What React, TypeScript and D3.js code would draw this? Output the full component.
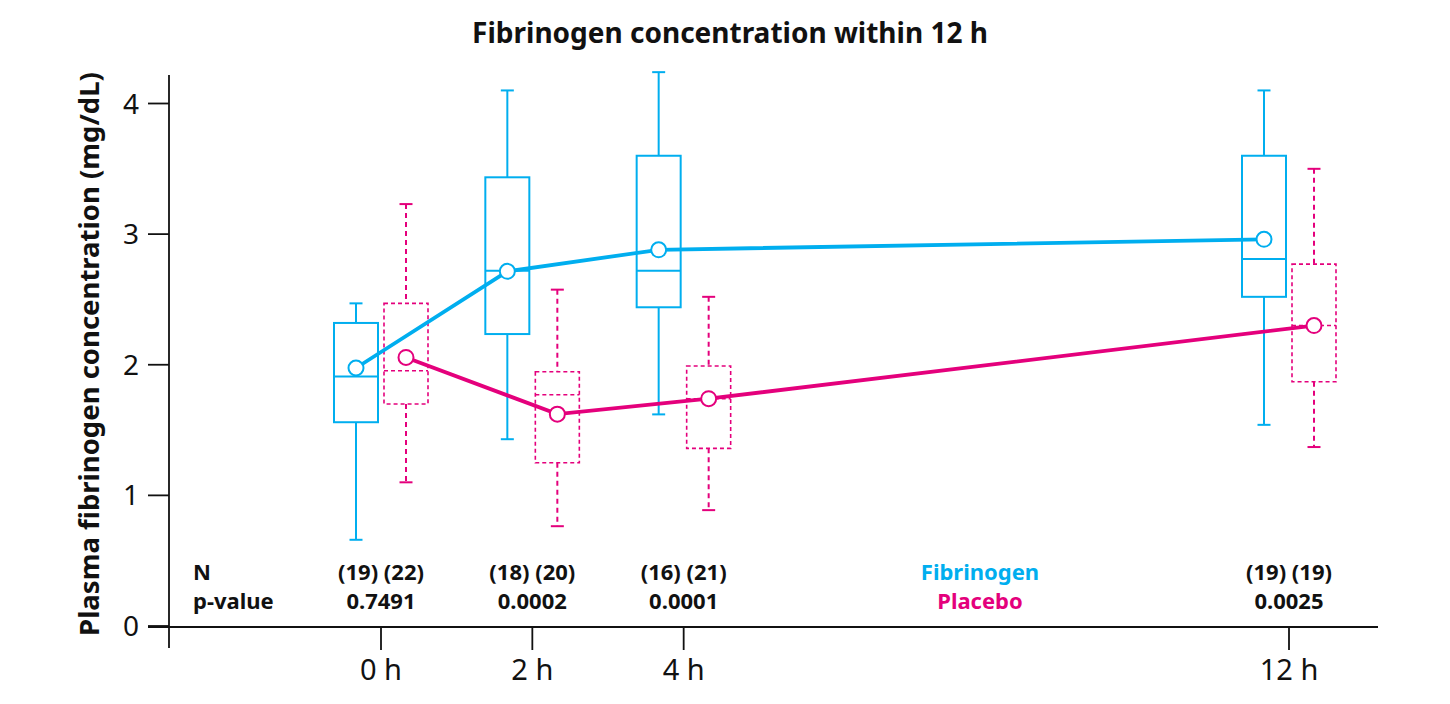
import * as d3 from "d3";

// time points (hours) and labels
const hours = [0, 2, 4, 12];
const hourLabels = ["0 h", "2 h", "4 h", "12 h"];

// Fibrinogen group: box plot stats per time point
const fibLow = [0.66, 1.43, 1.62, 1.54];
const fibQ1 = [1.56, 2.235, 2.44, 2.52];
const fibMedian = [1.91, 2.72, 2.72, 2.81];
const fibQ3 = [2.32, 3.435, 3.6, 3.6];
const fibHigh = [2.47, 4.1, 4.24, 4.1];
const fibMean = [1.975, 2.715, 2.88, 2.96];

// Placebo group
const plaLow = [1.1, 0.764, 0.887, 1.37];
const plaQ1 = [1.7, 1.25, 1.36, 1.87];
const plaMedian = [1.954, 1.77, 1.74, 2.3];
const plaQ3 = [2.47, 1.946, 1.99, 2.77];
const plaHigh = [3.23, 2.575, 2.52, 3.5];
const plaMean = [2.056, 1.622, 1.74, 2.3];

// table under the boxes
const nFib = [19, 18, 16, 19];
const nPla = [22, 20, 21, 19];
const pValues = ["0.7491", "0.0002", "0.0001", "0.0025"];

const yTicks = [0, 1, 2, 3, 4];

const CYAN = "#00aeef";
const MAGENTA = "#e4007c";
const FONT = "'Noto Sans', 'Open Sans', sans-serif";

const W = 1450;
const H = 704;

export default function App() {
  const x = d3.scaleLinear().domain([0, 12]).range([381, 1289]);
  const y = d3.scaleLinear().domain([0, 4]).range([626, 103.5]);

  const axisX = 169;
  const axisY = 627;
  const boxW = 44;
  const offset = 25;
  const capW = 13;

  const drawBoxes = (
    key: string,
    dx: number,
    low: number[],
    q1: number[],
    med: number[],
    q3: number[],
    high: number[],
    color: string,
    dashed: boolean
  ) =>
    hours.map((h, i) => {
      const cx = x(h) + dx;
      const whiskerDash = dashed ? "5,4" : undefined;
      const boxDash = dashed ? "4,3" : undefined;
      return (
        <g key={key + i} stroke={color} fill="none">
          <line
            x1={cx}
            x2={cx}
            y1={y(high[i])}
            y2={y(q3[i])}
            strokeWidth={2}
            strokeDasharray={whiskerDash}
          />
          <line
            x1={cx}
            x2={cx}
            y1={y(q1[i])}
            y2={y(low[i])}
            strokeWidth={2}
            strokeDasharray={whiskerDash}
          />
          <line x1={cx - capW / 2} x2={cx + capW / 2} y1={y(high[i])} y2={y(high[i])} strokeWidth={2} />
          <line x1={cx - capW / 2} x2={cx + capW / 2} y1={y(low[i])} y2={y(low[i])} strokeWidth={2} />
          <rect
            x={cx - boxW / 2}
            y={y(q3[i])}
            width={boxW}
            height={y(q1[i]) - y(q3[i])}
            strokeWidth={dashed ? 1.6 : 2}
            strokeDasharray={boxDash}
          />
          <line
            x1={cx - boxW / 2}
            x2={cx + boxW / 2}
            y1={y(med[i])}
            y2={y(med[i])}
            strokeWidth={dashed ? 1.6 : 2}
            strokeDasharray={boxDash}
          />
        </g>
      );
    });

  const meanPoints = (key: string, dx: number, mean: number[], color: string) =>
    mean.map((m, i) => (
      <circle
        key={key + i}
        cx={x(hours[i]) + dx}
        cy={y(m)}
        r={7.5}
        fill="#fff"
        stroke={color}
        strokeWidth={2}
      />
    ));

  const fibLine = d3
    .line<number>()
    .x((d, i) => x(hours[i]) - offset)
    .y((d) => y(d));
  const plaLine = d3
    .line<number>()
    .x((d, i) => x(hours[i]) + offset)
    .y((d) => y(d));

  return (
    <svg width={W} height={H} style={{ position: "absolute", left: 0, top: 0 }} fontFamily={FONT}>
      <rect width={W} height={H} fill="#fff" />
      <text x={730} y={43} textAnchor="middle" fontSize={28} fontWeight="bold" fill="#111">
        Fibrinogen concentration within 12 h
      </text>

      {/* y axis */}
      <line x1={axisX} x2={axisX} y1={75} y2={648} stroke="#111" strokeWidth={1.8} />
      {yTicks.map((t) => (
        <g key={t}>
          <line x1={148} x2={axisX} y1={y(t)} y2={y(t)} stroke="#111" strokeWidth={1.8} />
          <text x={139} y={y(t) + 10} textAnchor="end" fontSize={28} fill="#111">
            {t}
          </text>
        </g>
      ))}
      <text
        transform={`translate(99, 354) rotate(-90)`}
        textAnchor="middle"
        fontSize={27.5}
        fontWeight="bold"
        fill="#111"
      >
        Plasma fibrinogen concentration (mg/dL)
      </text>

      {/* x axis */}
      <line x1={148} x2={1378} y1={axisY} y2={axisY} stroke="#111" strokeWidth={1.8} />
      {hours.map((h, i) => (
        <g key={h}>
          <line x1={x(h)} x2={x(h)} y1={axisY} y2={650} stroke="#111" strokeWidth={1.8} />
          <text x={x(h)} y={680} textAnchor="middle" fontSize={29} fill="#111">
            {hourLabels[i]}
          </text>
        </g>
      ))}

      {drawBoxes("f", -offset, fibLow, fibQ1, fibMedian, fibQ3, fibHigh, CYAN, false)}
      {drawBoxes("p", offset, plaLow, plaQ1, plaMedian, plaQ3, plaHigh, MAGENTA, true)}

      <path d={fibLine(fibMean) || ""} fill="none" stroke={CYAN} strokeWidth={3.8} />
      <path d={plaLine(plaMean) || ""} fill="none" stroke={MAGENTA} strokeWidth={3.8} />
      {meanPoints("fm", -offset, fibMean, CYAN)}
      {meanPoints("pm", offset, plaMean, MAGENTA)}

      {/* N / p-value table */}
      <g fontSize={22} fontWeight="bold" fill="#111">
        <text x={193} y={580}>N</text>
        <text x={193} y={609}>p-value</text>
        {hours.map((h, i) => (
          <g key={"t" + h}>
            <text x={x(h)} y={580} textAnchor="middle">
              ({nFib[i]}) ({nPla[i]})
            </text>
            <text x={x(h)} y={609} textAnchor="middle">
              {pValues[i]}
            </text>
          </g>
        ))}
        <text x={980} y={580} textAnchor="middle" fill={CYAN}>
          Fibrinogen
        </text>
        <text x={980} y={609} textAnchor="middle" fill={MAGENTA}>
          Placebo
        </text>
      </g>
    </svg>
  );
}
